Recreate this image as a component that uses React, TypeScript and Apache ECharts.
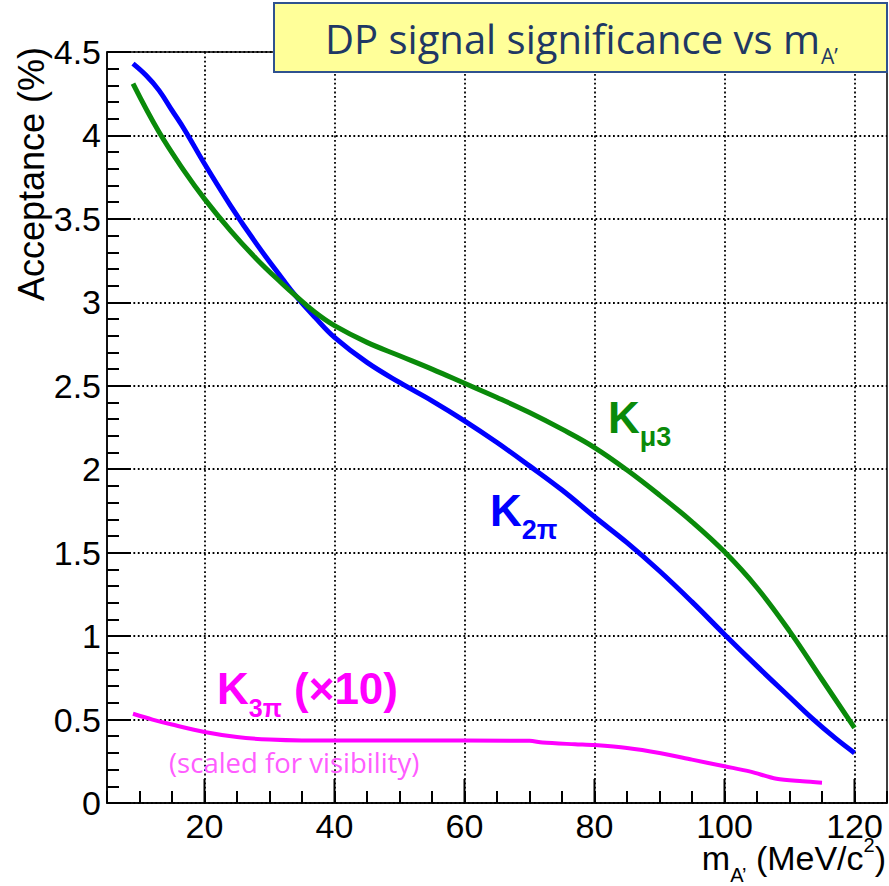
import React, { useEffect, useRef } from "react";
import * as echarts from "echarts";

// ---- data ----
const k2piX = [9, 11, 13, 15, 17, 20, 24, 28, 32, 34, 37, 40, 45, 50, 55, 60, 65, 70, 75, 80, 85, 90, 95, 100, 105, 110, 113.4, 117, 120];
const k2piY = [4.43, 4.36, 4.27, 4.15, 4.03, 3.83, 3.58, 3.35, 3.14, 3.04, 2.91, 2.79, 2.64, 2.52, 2.41, 2.29, 2.16, 2.02, 1.875, 1.715, 1.56, 1.39, 1.205, 1.01, 0.82, 0.635, 0.51, 0.39, 0.3];

const kmu3X = [9, 13, 17, 20, 24, 28, 32, 34, 37, 40, 45, 50, 55, 60, 65, 70, 75, 80, 85, 90, 95, 100, 105, 110, 115, 120];
const kmu3Y = [4.31, 4.02, 3.78, 3.62, 3.43, 3.26, 3.11, 3.04, 2.94, 2.86, 2.76, 2.68, 2.6, 2.515, 2.43, 2.34, 2.24, 2.13, 1.995, 1.845, 1.685, 1.505, 1.29, 1.03, 0.74, 0.45];

const k3piX = [9, 12, 15, 20, 25, 30, 35, 50, 70, 72, 77, 80, 85, 90, 95, 100, 104, 108, 112, 115];
const k3piY = [0.535, 0.5, 0.47, 0.425, 0.395, 0.38, 0.375, 0.375, 0.373, 0.362, 0.352, 0.347, 0.33, 0.3, 0.26, 0.22, 0.188, 0.145, 0.13, 0.122];

const xMajorTicks = [20, 40, 60, 80, 100, 120];
const xMinorStep = 5;
const yMajorStep = 0.5;
const xMin = 5;
const xMax = 125;
const yMin = 0;
const yMax = 4.5;

const titleText = "DP signal significance vs m";
const titleSub = "A’";
const yName = "Acceptance (%)";
const scaledNote = "(scaled for visibility)";

const BLUE = "#0000ff";
const GREEN = "#0a8a0a";
const MAGENTA = "#ff00ff";

const zip = (xs: number[], ys: number[]) => xs.map((x, i) => [x, ys[i]]);

let measureCtx: CanvasRenderingContext2D | null = null;
function measure(text: string, font: string): number {
  if (!measureCtx) measureCtx = document.createElement("canvas").getContext("2d");
  measureCtx!.font = font;
  return measureCtx!.measureText(text).width;
}

const SANS = '"Liberation Sans", Arial, sans-serif';
const OPEN = '"Open Sans", sans-serif';

function txt(text: string, x: number, y: number, size: number, family: string, fill: string, weight = "normal", z = 50) {
  return {
    type: "text",
    x,
    y,
    z,
    silent: true,
    style: {
      text,
      fontSize: size,
      fontFamily: family,
      fontWeight: weight,
      fill,
      align: "left",
      textAlign: "left",
      verticalAlign: "middle",
      textVerticalAlign: "middle",
    },
  };
}

function chain(parts: { t: string; size: number; dy: number; family: string; weight?: string }[], x0: number, y0: number, fill: string, z = 50) {
  const out: any[] = [];
  let x = x0;
  for (const p of parts) {
    const w = p.weight || "normal";
    out.push(txt(p.t, x, y0 + p.dy, p.size, p.family, fill, w, z));
    x += measure(p.t, `${w} ${p.size}px ${p.family}`);
  }
  return out;
}

export default function App() {
  const ref = useRef<HTMLDivElement>(null);
  useEffect(() => {
    const chart = echarts.init(ref.current!, null, { renderer: "svg" });

    const dotted = { color: "#000", width: 1.8, type: [1.8, 2.6] as any };

    const xNameParts = [
      { t: "m", size: 34, dy: 0, family: SANS },
      { t: "A’", size: 20, dy: 17, family: SANS },
      { t: " (MeV/c", size: 34, dy: 0, family: SANS },
      { t: "2", size: 20, dy: -13, family: SANS },
      { t: ")", size: 34, dy: 0, family: SANS },
    ];
    const xNameW = xNameParts.reduce((s, p) => s + measure(p.t, `normal ${p.size}px ${p.family}`), 0);

    const titleSize = 40;
    const titleW = measure(titleText, `normal ${titleSize}px ${OPEN}`);

    const graphics: any[] = [
      {
        type: "rect",
        z: 100,
        silent: true,
        shape: { x: 274, y: 3, width: 613, height: 69 },
        style: { fill: "#ffff99", stroke: "#2f528f", lineWidth: 2 },
      },
      txt(titleText, 325, 38, titleSize, OPEN, "#1f3864", "normal", 101),
      txt(titleSub, 325 + titleW + 1, 56, 21, OPEN, "#1f3864", "normal", 101),
      {
        type: "text",
        x: 31,
        y: 47,
        rotation: Math.PI / 2,
        z: 50,
        silent: true,
        style: {
          text: yName,
          fontSize: 36,
          fontFamily: SANS,
          fill: "#000",
          align: "right",
          textAlign: "right",
          verticalAlign: "middle",
          textVerticalAlign: "middle",
        },
      },
      ...chain(xNameParts, 886 - xNameW, 858, "#000"),
      ...chain(
        [
          { t: "K", size: 44, dy: 0, family: SANS, weight: "bold" },
          { t: "μ3", size: 27, dy: 19, family: SANS, weight: "bold" },
        ],
        608,
        417.5,
        GREEN
      ),
      ...chain(
        [
          { t: "K", size: 44, dy: 0, family: SANS, weight: "bold" },
          { t: "2π", size: 27, dy: 19.5, family: SANS, weight: "bold" },
        ],
        490,
        510,
        BLUE
      ),
      ...chain(
        [
          { t: "K", size: 44, dy: 0, family: SANS, weight: "bold" },
          { t: "3π", size: 25, dy: 20, family: SANS, weight: "bold" },
          { t: " (×10)", size: 44, dy: 0, family: SANS, weight: "bold" },
        ],
        217,
        688.3,
        MAGENTA
      ),
      txt(scaledNote, 169, 762, 27.5, OPEN, "#ff5cff"),
    ];

    const option: any = {
      animation: false,
      backgroundColor: "#fff",
      grid: {
        left: 107,
        right: 2,
        top: 52,
        bottom: 83,
        show: true,
        borderColor: "#000",
        borderWidth: 1.5,
        backgroundColor: "transparent",
      },
      xAxis: [
        {
          type: "value",
          min: xMin,
          max: xMax,
          interval: xMinorStep,
          position: "bottom",
          axisLine: { show: true, onZero: false, lineStyle: { color: "#000", width: 1.5 } },
          axisTick: { show: true, inside: true, length: 12, lineStyle: { color: "#000", width: 2 } },
          axisLabel: { show: false },
          splitLine: { show: false },
        },
        {
          type: "value",
          min: xMin,
          max: xMax,
          position: "bottom",
          axisLine: { show: false, onZero: false },
          axisTick: { show: false, customValues: xMajorTicks },
          axisLabel: {
            show: true,
            customValues: xMajorTicks,
            margin: 6,
            fontSize: 34,
            fontFamily: SANS,
            color: "#000",
          },
          splitLine: { show: true, lineStyle: dotted },
        },
      ],
      yAxis: {
        type: "value",
        min: yMin,
        max: yMax,
        interval: yMajorStep,
        axisLine: { show: true, onZero: false, lineStyle: { color: "#000", width: 1.5 } },
        axisTick: { show: true, inside: true, length: 24, lineStyle: { color: "#000", width: 2 } },
        minorTick: { show: true, splitNumber: 5, length: 12, lineStyle: { color: "#000", width: 2 } },
        axisLabel: { margin: 6, fontSize: 34, fontFamily: SANS, color: "#000" },
        splitLine: { show: true, lineStyle: dotted },
      },
      series: [
        {
          name: "K2pi",
          type: "line",
          xAxisIndex: 0,
          data: zip(k2piX, k2piY),
          showSymbol: false,
          symbol: "none",
          smooth: 0.4,
          lineStyle: { color: BLUE, width: 5 },
          z: 3,
        },
        {
          name: "Kmu3",
          type: "line",
          xAxisIndex: 0,
          data: zip(kmu3X, kmu3Y),
          showSymbol: false,
          symbol: "none",
          smooth: 0.4,
          lineStyle: { color: GREEN, width: 5 },
          z: 4,
        },
        {
          name: "K3pi",
          type: "line",
          xAxisIndex: 0,
          data: zip(k3piX, k3piY),
          showSymbol: false,
          symbol: "none",
          smooth: 0.3,
          lineStyle: { color: MAGENTA, width: 4 },
          z: 5,
        },
      ],
      graphic: { elements: graphics },
    };

    chart.setOption(option);

    // long (major) x ticks placed through the x scale
    const majorTicks: any[] = xMajorTicks.map((v) => {
      const p = chart.convertToPixel({ xAxisIndex: 0, yAxisIndex: 0 } as any, [v, yMin]) as number[];
      return {
        type: "line",
        silent: true,
        z: 40,
        shape: { x1: p[0], y1: p[1], x2: p[0], y2: p[1] - 24 },
        style: { stroke: "#000", lineWidth: 2 },
      };
    });
    chart.setOption({ graphic: { elements: [...graphics, ...majorTicks] } });

    return () => chart.dispose();
  }, []);
  return (
    <div
      ref={ref}
      style={{ position: "fixed", left: 0, top: 0, width: 889, height: 886, background: "#fff" }}
    />
  );
}
